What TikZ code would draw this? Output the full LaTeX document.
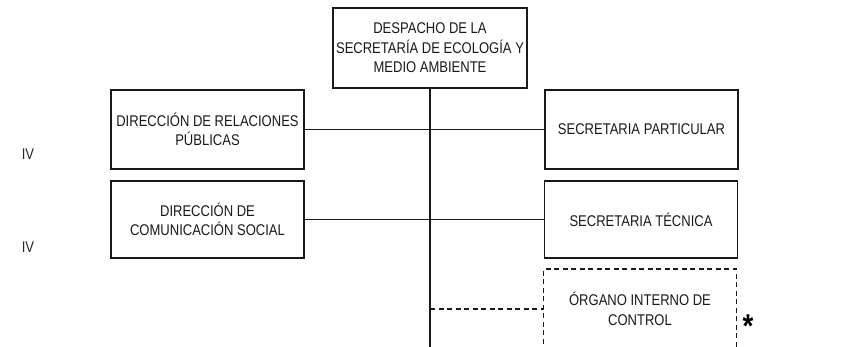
\documentclass[tikz,border=0pt]{standalone}
\usepackage{fontspec}
\setmainfont[FakeStretch=0.84]{Liberation Sans}
\begin{document}
\begin{tikzpicture}[x=1pt,y=-1pt,
  box/.style={draw=black!90, line width=1.5pt, align=center, inner sep=2pt,
    font=\fontsize{15.5}{19.5}\selectfont, text=black!90},
  dbox/.style={box, dash pattern=on 5pt off 3.5pt},
  link/.style={line width=1.5pt, draw=black!90},
  dlink/.style={link, dash pattern=on 5pt off 3.5pt},
  lvl/.style={font=\fontsize{15.5}{18}\selectfont, text=black!85}]
\useasboundingbox (0,0) rectangle (842,347);
\node[box, minimum width=194pt, minimum height=80pt] (top) at (430,48) {DESPACHO DE LA\\SECRETARÍA DE ECOLOGÍA Y\\MEDIO AMBIENTE};
\node[box, minimum width=193pt, minimum height=79pt] (l1) at (207.5,129.5) {DIRECCIÓN DE RELACIONES\\PÚBLICAS};
\node[box, minimum width=193pt, minimum height=77pt] (l2) at (207.5,219.5) {DIRECCIÓN DE\\COMUNICACIÓN SOCIAL};
\node[box, minimum width=193pt, minimum height=79pt] (r1) at (641.5,129.5) {SECRETARIA PARTICULAR};
\node[box, minimum width=193pt, minimum height=77pt] (r2) at (641,219.5) {SECRETARIA TÉCNICA};
\node[dbox, minimum width=193pt, minimum height=80pt] (oic) at (640,309) {ÓRGANO INTERNO DE\\CONTROL};
\node[font=\fontsize{33}{33}\bfseries\selectfont, inner sep=0pt] (ast) at (748,326) {*};
\node[lvl] (iv1) at (28,154) {IV};
\node[lvl] (iv2) at (28,247) {IV};
\coordinate (bot) at (430,348);
\coordinate (j3) at (430,309);
\draw[link] (top.south) -- (bot);
\draw[link] (l1.east) -- (r1.west);
\draw[link] (l2.east) -- (r2.west);
\draw[dlink] (j3) -- (oic.west);
\end{tikzpicture}
\end{document}
